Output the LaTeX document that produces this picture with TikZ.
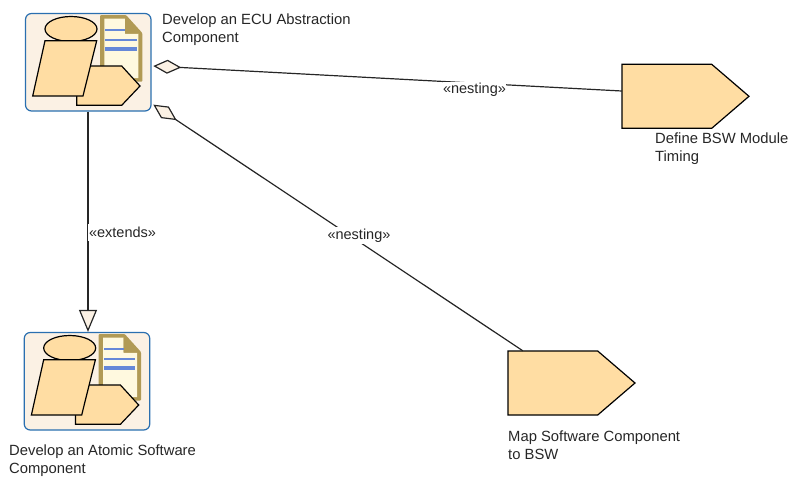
\documentclass[tikz,border=0pt]{standalone}
\usepackage{fontspec}
\setmainfont{Liberation Sans}
\usetikzlibrary{arrows.meta}
\definecolor{fillor}{HTML}{FFDDA3}
\definecolor{boxbg}{HTML}{FBF1E4}
\definecolor{boxln}{HTML}{2A6FB0}
\definecolor{doctan}{HTML}{B19A55}
\definecolor{docbg}{HTML}{FFF9DF}
\definecolor{docln}{HTML}{6688D8}
\tikzset{
  x=1pt,y=-1pt,
  lbl/.style={font=\fontsize{14.8}{18}\selectfont,text=black!85,align=left,inner sep=0pt,anchor=north west},
  stereo/.style={font=\fontsize{14.5}{16}\selectfont,fill=white,inner sep=0pt,text=black!85,minimum height=17pt},
  shp/.style={draw=black,fill=fillor,line width=1.2pt,line join=miter},
  conn/.style={draw=black!85,line width=1.2pt},
  anchorbox/.style={inner sep=0pt,minimum width=#1,minimum height=64pt},
  icon/.style={draw=boxln,fill=boxbg,line width=1.2pt,rounded corners=6pt,inner sep=0pt,minimum width=125.5pt,minimum height=97.5pt},
  pics/delivery/.style={code={
    \path[fill=doctan,rounded corners=1pt] (100,15)--(126,15)--(142.3,33)--(142.3,81.7)--(100,81.7)--cycle;
    \path[fill=docbg] (104.3,18.5)--(125,18.5)--(125,33.5)--(138.3,33.5)--(138.3,78)--(104.3,78)--cycle;
    \path[fill=doctan] (125,18.5)--(138.3,33.5)--(125,33.5)--cycle;
    \fill[docln] (105,28.7) rectangle (125,31.3);
    \fill[docln] (105,38.5) rectangle (136.5,41.2);
    \fill[docln] (105,47) rectangle (136.5,51);
    \path[shp] (71,29) ellipse [x radius=26,y radius=12.5];
    \path[shp] (90,66)--(121.7,66)--(140,86)--(121.7,105.3)--(76.7,105.3)--(76.7,90)--cycle;
    \path[shp] (45,40.7)--(96.7,40.7)--(83,96)--(32.7,96)--cycle;
  }},
  pics/task/.style={code={
    \path[shp] (0,0)--(89.7,0)--(127,32)--(89.7,64)--(0,64)--cycle;
  }},
}
\begin{document}
\begin{tikzpicture}
\useasboundingbox (0,0) rectangle (792,477);
\node[icon] (eca) at (88.25,62.25) {};
\pic at (0,0) {delivery};
\node[icon] (asw) at (87,381.25) {};
\pic at (-1.3,319) {delivery};
\pic at (622,64.3) {task};
\node[anchorbox=127pt] (bsw) at (685.5,96.3) {};
\pic at (508,351) {task};
\node[anchorbox=127pt] (map) at (571.5,383) {};
\node[lbl] (t1) at (162,13.5) {Develop an ECU Abstraction\\Component};
\node[lbl] (t2) at (655,132.5) {Define BSW Module\\Timing};
\node[lbl] (t3) at (508,431) {Map Software Component\\to BSW};
\node[lbl] (t4) at (9,444.5) {Develop an Atomic Software\\Component};
\coordinate (d1) at ([xshift=1.7pt,yshift=-3.75pt]eca.east);
\coordinate (d2) at ([xshift=1.7pt,yshift=7pt]eca.south east);
\coordinate (bswin) at ([yshift=5.3pt]bsw.west);
\coordinate (mapin) at ([xshift=15pt]map.north west);
\draw[conn,{Diamond[open,fill=boxbg,length=28pt,width=14pt,line width=1.2pt]}-] (d1) -- (bswin);
\draw[conn,{Diamond[open,fill=boxbg,length=28pt,width=14pt,line width=1.2pt]}-] (d2) -- (mapin);
\draw[conn,-{Triangle[open,fill=boxbg,length=22pt,width=18pt,line width=1.2pt]}] ([xshift=1pt]eca.south -| asw.north) -- ([xshift=1pt]asw.north);
\node[stereo] (n1) at (474.5,90) {«nesting»};
\node[stereo] (n2) at (359,235.5) {«nesting»};
\node[stereo,minimum width=70pt] (n3) at (122.5,232.4) {«extends»};
\end{tikzpicture}
\end{document}
